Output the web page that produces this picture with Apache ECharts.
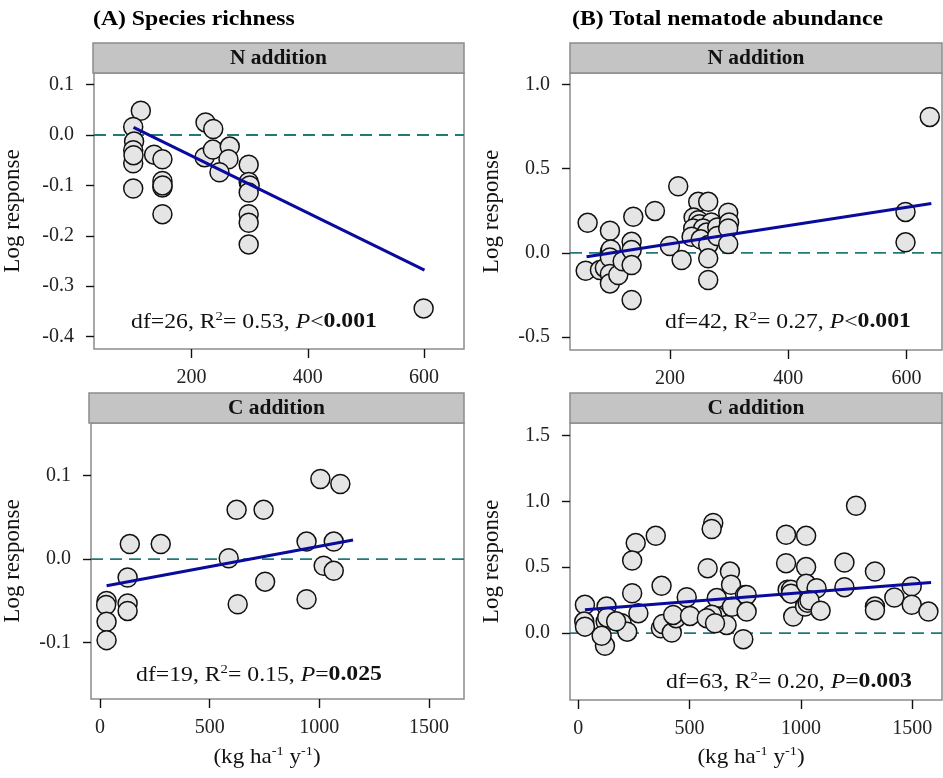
<!DOCTYPE html>
<html>
<head>
<meta charset="utf-8">
<script src="https://cdn.jsdelivr.net/npm/echarts@6/dist/echarts.min.js"></script>
<style>
  html, body { margin: 0; padding: 0; background: #fff; }
  #chart { width: 943px; height: 778px; }
</style>
</head>
<body>
<div id="chart"></div>
<script>
// ---- data: [N or C input (kg/ha/y), log response] ----
const richN = [
  [112.6, 0.048], [99.5, 0.016], [101, -0.013], [99.5, -0.030], [99.5, -0.056], [99.5, -0.106],
  [100, -0.040], [135.4, -0.039], [149.8, -0.048], [149.8, -0.091], [149.8, -0.104], [150, -0.100],
  [149.8, -0.157], [224, 0.025], [237.3, 0.012], [222.3, -0.044], [236.6, -0.029], [265.7, -0.023],
  [263.5, -0.048], [248, -0.074], [298.3, -0.059], [298.3, -0.093], [300, -0.100], [298.3, -0.114],
  [298.3, -0.157], [298.3, -0.174], [298.3, -0.217], [599.5, -0.344]
]
const richC = [
  [30, -0.050], [28, -0.055], [30, -0.075], [30, -0.097], [136, 0.018], [126, -0.022], [126, -0.053],
  [126, -0.062], [277, 0.018], [587, 0.001], [623, 0.059], [628, -0.054], [746, 0.059], [753, -0.027],
  [942, 0.021], [942, -0.048], [1005, 0.096], [1020, -0.008], [1066, 0.021], [1066, -0.014], [1096, 0.090]
]
const abundN = [
  [60.8, 0.178], [98.5, 0.131], [138, 0.214], [174.6, 0.249], [57.5, -0.107], [81.6, -0.103],
  [90, -0.090], [98.5, 0.006], [100, 0.020], [98.5, -0.028], [98.5, -0.126], [98.5, -0.182],
  [112.6, -0.132], [120, -0.050], [135.2, 0.065], [135.2, 0.016], [135.2, -0.073], [135.2, -0.281],
  [199.9, 0.040], [219.7, -0.043], [214, 0.396], [247.8, 0.303], [264.7, 0.303], [298.5, 0.238],
  [240, 0.210], [247.8, 0.194], [250, 0.170], [270, 0.180], [239.3, 0.145], [256.2, 0.145],
  [262, 0.120], [236.6, 0.095], [252, 0.080], [264.7, 0.046], [264.7, -0.033], [264.7, -0.162],
  [280, 0.150], [280, 0.100], [300, 0.180], [298.5, 0.145], [298.5, 0.052], [598.3, 0.243],
  [598.3, 0.062], [639.3, 0.808]
]
const abundC = [
  [30, 0.215], [27, 0.088], [30, 0.050], [127, 0.202], [123, 0.088], [130, 0.120], [120, -0.095],
  [105, -0.020], [195, 0.076], [220, 0.012], [170, 0.090], [270, 0.152], [258, 0.683], [242, 0.551],
  [348, 0.738], [242, 0.303], [374, 0.359], [371, 0.038], [380, 0.070], [420, 0.005], [439, 0.114],
  [426, 0.139], [487, 0.273], [502, 0.131], [581, 0.493], [606, 0.835], [599, 0.790], [622, 0.266],
  [622, 0.126], [600, 0.140], [577, 0.114], [681, 0.467], [686, 0.367], [749, 0.290], [749, 0.177],
  [741, -0.045], [666, 0.063], [614, 0.076], [690, 0.200], [756, 0.290], [756, 0.164], [933, 0.746],
  [1023, 0.738], [933, 0.531], [1023, 0.501], [940, 0.329], [955, 0.330], [955, 0.300], [1023, 0.374],
  [1070, 0.341], [965, 0.126], [1018, 0.202], [1030, 0.230], [1038, 0.250], [1088, 0.171],
  [1195, 0.536], [1195, 0.349], [1247, 0.966], [1332, 0.468], [1332, 0.202], [1332, 0.175],
  [1419, 0.271], [1497, 0.355], [1497, 0.216], [1572, 0.164]
]

// fitted regression lines (end points)
const richNFit = [[100, 0.015], [601, -0.268]]
const richCFit = [[30, -0.032], [1154, 0.023]]
const abundNFit = [[59, -0.024], [642, 0.293]]
const abundCFit = [[30, 0.177], [1584, 0.384]]

// tick labels
const xTicksN = [200, 400, 600]
const xTicksC = [0, 500, 1000, 1500]
const yTicksRichN = [-0.4, -0.3, -0.2, -0.1, 0.0, 0.1]
const yTicksRichC = [-0.1, 0.0, 0.1]
const yTicksAbundN = [-0.5, 0.0, 0.5, 1.0]
const yTicksAbundC = [0.0, 0.5, 1.0, 1.5]

const FONT = '"Liberation Serif", "Times New Roman", serif'
const STRETCH = 1.13 // the source figure's lettering is a bit wider than plain Times

const panels = [
  { strip: 'N addition', pts: richN, fit: richNFit, xTicks: xTicksN, yTicks: yTicksRichN,
    left: 93, top: 73, width: 371, height: 276, xMin: 32, xMax: 669, yMin: -0.4245, yMax: 0.123,
    nameGap: 70, stat: ['26', '0.53', '<', '0.001'], statPos: [254, 322] },
  { strip: 'N addition', pts: abundN, fit: abundNFit, xTicks: xTicksN, yTicks: yTicksAbundN,
    left: 570, top: 73, width: 372, height: 277, xMin: 31, xMax: 660, yMin: -0.578, yMax: 1.069,
    nameGap: 67, stat: ['42', '0.27', '<', '0.001'], statPos: [788, 322] },
  { strip: 'C addition', pts: richC, fit: richCFit, xTicks: xTicksC, yTicks: yTicksRichC,
    left: 89, top: 423, width: 375, height: 276, xMin: -41, xMax: 1660, yMin: -0.1675, yMax: 0.163,
    nameGap: 67, stat: ['19', '0.15', '=', '0.025'], statPos: [259, 675] },
  { strip: 'C addition', pts: abundC, fit: abundCFit, xTicks: xTicksC, yTicks: yTicksAbundC,
    left: 570, top: 423, width: 372, height: 277, xMin: -37, xMax: 1633, yMin: -0.506, yMax: 1.593,
    nameGap: 67, stat: ['63', '0.20', '=', '0.003'], statPos: [789, 682] }
]

const stripH = 30
const grids = [], xAxes = [], yAxes = [], series = [], graphics = []

panels.forEach((p, i) => {
  grids.push({
    left: p.left, top: p.top, width: p.width, height: p.height,
    show: true, backgroundColor: '#fff', borderColor: '#8c8c8c', borderWidth: 1.5
  })
  xAxes.push({
    gridIndex: i, type: 'value', min: p.xMin, max: p.xMax,
    axisLine: { show: false, onZero: false },
    axisTick: { show: true, length: 9, customValues: p.xTicks, lineStyle: { color: '#111', width: 1.4 } },
    axisLabel: { customValues: p.xTicks, margin: 19, color: '#222', fontFamily: FONT, fontSize: 20,
      formatter: (v) => String(v) },
    splitLine: { show: false }
  })
  yAxes.push({
    gridIndex: i, type: 'value', min: p.yMin, max: p.yMax,
    name: 'Log response', nameLocation: 'middle', nameGap: p.nameGap,
    nameTextStyle: { color: '#111', fontFamily: FONT, fontSize: 23 },
    axisLine: { show: false, onZero: false },
    axisTick: { show: true, length: 8, customValues: p.yTicks, lineStyle: { color: '#111', width: 1.4 } },
    axisLabel: { customValues: p.yTicks, margin: 20, color: '#222', fontFamily: FONT, fontSize: 20,
      formatter: (v) => v.toFixed(1) },
    splitLine: { show: false }
  })
  // dashed zero reference
  series.push({
    type: 'line', xAxisIndex: i, yAxisIndex: i, data: [[p.xMin, 0], [p.xMax, 0]],
    symbol: 'none', silent: true, z: 1,
    lineStyle: { color: '#227a76', width: 1.8, type: [12, 7] }
  })
  series.push({
    type: 'scatter', xAxisIndex: i, yAxisIndex: i, data: p.pts, symbolSize: 19, z: 2,
    itemStyle: { color: '#e5e5e5', borderColor: '#111', borderWidth: 1.5, opacity: 1 }
  })
  series.push({
    type: 'line', xAxisIndex: i, yAxisIndex: i, data: p.fit, symbol: 'none', z: 3,
    lineStyle: { color: '#0a0a9c', width: 3 }
  })
  // strip header
  graphics.push({
    type: 'rect', shape: { x: p.left, y: p.top - stripH, width: p.width, height: stripH },
    style: { fill: '#c4c4c4', stroke: '#8c8c8c', lineWidth: 1.5 }
  })
  graphics.push({
    type: 'text', x: p.left + p.width / 2, y: p.top - stripH / 2 + 1, scaleX: 1.07,
    style: { text: p.strip, fill: '#111', font: 'bold 20px ' + FONT, align: 'center', verticalAlign: 'middle' }
  })
  // statistics annotation
  const s = p.stat
  graphics.push({
    type: 'text', x: p.statPos[0], y: p.statPos[1], z: 10, scaleX: STRETCH,
    style: {
      text: '{n|df=' + s[0] + ', R}{sup|2}{n|= ' + s[1] + ', }{it|P}{n|' + s[2] + '}{b|' + s[3] + '}',
      align: 'center', verticalAlign: 'middle',
      rich: {
        n: { fontFamily: FONT, fontSize: 21, lineHeight: 24, fill: '#111' },
        sup: { fontFamily: FONT, fontSize: 13, lineHeight: 13, verticalAlign: 'top', fill: '#111' },
        it: { fontFamily: FONT, fontSize: 21, lineHeight: 24, fontStyle: 'italic', fill: '#111' },
        b: { fontFamily: FONT, fontSize: 21, lineHeight: 24, fontWeight: 'bold', fill: '#111' }
      }
    }
  })
})

// panel titles
graphics.push({
  type: 'text', x: 93, y: 20, scaleX: STRETCH,
  style: { text: '(A) Species richness', fill: '#000', font: 'bold 21px ' + FONT, align: 'left', verticalAlign: 'middle' }
})
graphics.push({
  type: 'text', x: 572, y: 20, scaleX: STRETCH,
  style: { text: '(B) Total nematode abundance', fill: '#000', font: 'bold 21px ' + FONT, align: 'left', verticalAlign: 'middle' }
})

// x-axis unit labels under the C addition panels
const unitRich = {
  n: { fontFamily: FONT, fontSize: 21, lineHeight: 24, fill: '#111' },
  s: { fontFamily: FONT, fontSize: 13, lineHeight: 13, verticalAlign: 'top', fill: '#111' }
}
;[[267, 757], [751, 757]].forEach((pos) => {
  graphics.push({
    type: 'text', x: pos[0], y: pos[1], scaleX: 1.1,
    style: { text: '{n|(kg ha}{s|-1}{n| y}{s|-1}{n|)}', align: 'center', verticalAlign: 'middle', rich: unitRich }
  })
})

const chart = echarts.init(document.getElementById('chart'), null, { renderer: 'canvas' })
chart.setOption({
  animation: false,
  backgroundColor: '#fff',
  grid: grids,
  xAxis: xAxes,
  yAxis: yAxes,
  series: series,
  graphic: graphics
})
</script>
</body>
</html>
